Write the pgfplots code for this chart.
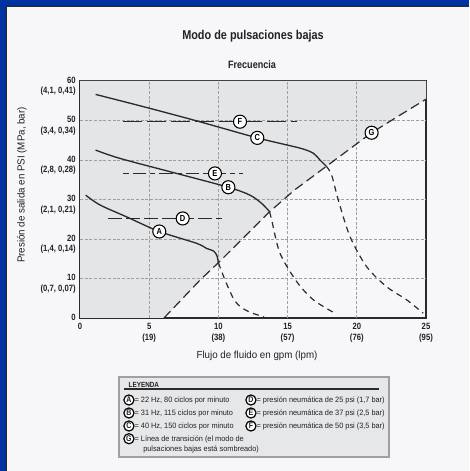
\documentclass[border=0pt]{standalone}
\usepackage{pgfplots}
\pgfplotsset{compat=1.18}
\usepackage{fontspec}
\setmainfont{Liberation Sans}[FakeStretch=0.95, BoldFeatures={FakeStretch=0.85}]
\definecolor{bgcol}{HTML}{F7F6F8}
\definecolor{shade}{HTML}{E4E5E7}
\definecolor{legfill}{HTML}{E6E7E8}
\definecolor{framebl}{HTML}{0033A0}
\definecolor{darkln}{HTML}{2B2B2B}
\definecolor{gridc}{HTML}{A0A0A0}
\definecolor{txt}{HTML}{222222}

\newcommand{\lab}[2]{\node[circle, draw=black, fill=white, line width=0.8pt, inner sep=0pt,
  minimum size=9.8pt, font=\bfseries\fontsize{6.6}{7}\selectfont] at (axis cs:#1) {#2};}
\newcommand{\legc}[1]{\tikz[baseline=(c.base)]\node[circle, draw=black, fill=white, line width=0.9pt,
  inner sep=0pt, minimum size=7.6pt, font=\bfseries\fontsize{6.2}{6}\selectfont](c){#1};}

\begin{document}
\begin{tikzpicture}
\begin{scope}[x=0.75pt,y=0.75pt]
% page background and frame
\fill[bgcol] (0,0) rectangle (469,471);
\fill[framebl] (0,0) rectangle (5,471);
\fill[framebl] (0,466) rectangle (469,471);
\fill[darkln] (5,0) rectangle (7,466);
\fill[darkln] (5,464) rectangle (469,466);

% titles
\node[txt, font=\bfseries\fontsize{9.6}{11}\selectfont] at (253,435) {Modo de pulsaciones bajas};
\node[txt, font=\bfseries\fontsize{8}{9}\selectfont] at (252,406) {Frecuencia};
\node[txt, font=\fontsize{7.7}{9}\selectfont] at (257,115) {Flujo de fluido en gpm (lpm)};
\node[txt, font=\fontsize{7.7}{9}\selectfont, rotate=90] at (22,286) {Presión de salida en PSI (MPa, bar)};
\end{scope}

\begin{axis}[
  at={(60pt,114.75pt)}, anchor=south west,
  scale only axis, width=259.5pt, height=177.75pt,
  xmin=0, xmax=25, ymin=0, ymax=60,
  axis background/.style={fill=bgcol},
  axis line style={draw=darkln, line width=1.5pt},
  major tick length=0pt,
  xtick={0,5,10,15,20,25},
  xticklabels={0,{5\\(19)},{10\\(38)},{15\\(57)},{20\\(76)},{25\\(95)}},
  ytick={0,10,20,30,40,50,60},
  yticklabels={0,{10\\(0,7, 0,07)},{20\\(1,4, 0,14)},{30\\(2,1, 0,21)},{40\\(2,8, 0,28)},{50\\(3,4, 0,34)},{60\\(4,1, 0,41)}},
  xticklabel style={align=center, text=txt, font=\bfseries\fontsize{6.8}{7.9}\selectfont, inner sep=0pt, yshift=-4pt},
  yticklabel style={align=right, text=txt, font=\bfseries\fontsize{6.8}{7.9}\selectfont, inner sep=0pt, anchor=north east, xshift=-3pt, yshift=3.4pt},
  grid=major,
  major grid style={draw=gridc, line width=0.6pt, dash pattern=on 2.2pt off 1.3pt},
  clip=true,
]
% shaded low pulsation region (left of transition line G)
\addplot[fill=shade, draw=none] coordinates {
  (0,0) (6.07,0) (8.67,9.6) (10,14.0) (13.7,26.9) (15.5,32.4) (17.8,38.4) (21.07,46.9) (23,51.1) (25,55.4) (25,60) (0,60) (0,0)};
\pgfplotsextra{\draw[gridc, line width=0.6pt, dash pattern=on 2.2pt off 1.3pt]
  \foreach \gx in {5,10,15,20} {(axis cs:\gx,0) -- (axis cs:\gx,60)}
  \foreach \gy in {10,20,30,40,50} {(axis cs:0,\gy) -- (axis cs:25,\gy)};}

% transition line G
\addplot[darkln, line width=0.9pt, dash pattern=on 7pt off 3.6pt] coordinates {
  (6.07,0) (8.67,9.6) (10,14.0) (13.7,26.9) (15.5,32.4) (17.8,38.4) (21.07,46.9) (23,51.1) (25,55.4)};

% air pressure lines D, E, F
\addplot[darkln, line width=0.9pt, dash pattern=on 10pt off 3.5pt] coordinates {(2.05,25.2) (10.24,25.2)};
\addplot[darkln, line width=0.9pt, dash pattern=on 4pt off 3pt on 10pt off 3pt] coordinates {(3.13,36.6) (11.8,36.6)};
\addplot[darkln, line width=0.9pt, dash pattern=on 14pt off 4pt] coordinates {(3.13,49.7) (15.66,49.7)};

% frequency curves A, B, C
\addplot[darkln, line width=1pt, smooth, tension=0.5] coordinates {
  (0.41,31.1) (1.45,28.6) (3.37,25.6) (5.73,21.9) (8.43,18.9) (9.15,17.6) (9.63,17.0) (9.88,15.9) (10.0,14.0)};
\addplot[darkln, line width=1pt, smooth, tension=0.5] coordinates {
  (1.13,42.5) (2.89,40.4) (6.98,36.6) (10.72,33.1) (12.28,31.1) (13.13,29.0) (13.7,26.9)};
\addplot[darkln, line width=1pt, smooth, tension=0.5] coordinates {
  (1.13,56.6) (4.8,53.3) (8.43,49.9) (12.81,45.6) (15.9,43.0) (16.86,41.7) (17.34,40.0) (17.8,38.4)};

% continuation below transition
\addplot[darkln, line width=0.9pt, smooth, tension=0.5, dash pattern=on 4.5pt off 3.5pt] coordinates {
  (10.0,14.0) (10.48,9.6) (11.08,5.0) (11.6,2.8) (12.4,1.3) (13.3,0.3)};
\addplot[darkln, line width=0.9pt, smooth, tension=0.5, dash pattern=on 4.5pt off 3.5pt] coordinates {
  (13.7,26.9) (13.85,24.8) (14.45,16.4) (15.66,9.2) (16.86,4.6) (18.42,1.2)};
\addplot[darkln, line width=0.9pt, smooth, tension=0.5, dash pattern=on 4.5pt off 3.5pt] coordinates {
  (17.8,38.4) (18.18,36.2) (18.66,29.9) (19.51,20.6) (20.71,13.0) (22.16,7.9) (23.6,4.6) (24.8,1.2)};

\lab{5.73,21.9}{A}
\lab{10.72,33.1}{B}
\lab{12.81,45.6}{C}
\lab{7.42,25.2}{D}
\lab{9.75,36.6}{E}
\lab{11.56,49.7}{F}
\lab{21.07,46.9}{G}
\end{axis}

\begin{scope}[x=0.75pt,y=0.75pt]
% legend box
\draw[fill=legfill, draw=gridc, line width=1.1pt] (119,14) rectangle (389,94);
\node[txt, anchor=west, font=\bfseries\fontsize{5.6}{6}\selectfont] at (124,86) {LEYENDA};
\draw[darkln, line width=0.9pt] (124,82) -- (379,82);
\begin{scope}[every node/.style={anchor=west, inner sep=0pt, text=txt, font=\fontsize{5.8}{7.3}\selectfont}]
\node at (123,71) {\legc{A}= 22 Hz, 80 ciclos por minuto};
\node at (123,58) {\legc{B}= 31 Hz, 115 ciclos por minuto};
\node at (123,45) {\legc{C}= 40 Hz, 150 ciclos por minuto};
\node[align=left] at (123,28) {\legc{G}= Línea de transición (el modo de\\\hspace{15pt}pulsaciones bajas está sombreado)};
\node at (245,71) {\legc{D}= presión neumática de 25 psi (1,7 bar)};
\node at (245,58) {\legc{E}= presión neumática de 37 psi (2,5 bar)};
\node at (245,45) {\legc{F}= presión neumática de 50 psi (3,5 bar)};
\end{scope}
\end{scope}
\end{tikzpicture}
\end{document}
